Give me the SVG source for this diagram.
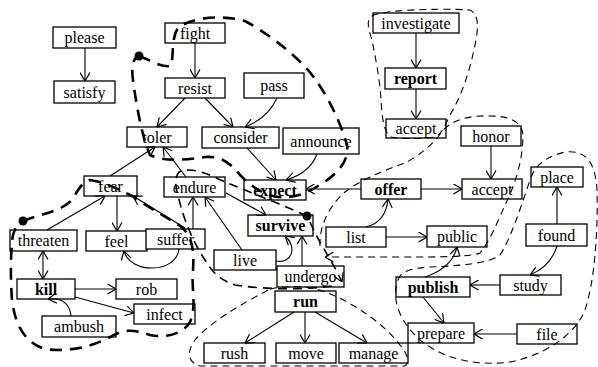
<svg xmlns="http://www.w3.org/2000/svg" width="598" height="367" viewBox="0 0 598 367">
<style>
.n rect{fill:#fff;stroke:#000;stroke-width:1.3}
.n text{font-family:"Liberation Serif","Times New Roman",serif;font-size:16px;text-anchor:middle;fill:#000}
.b text{font-weight:bold}
.e path{fill:none;stroke:#000;stroke-width:1.1;marker-end:url(#a)}
.thick{fill:none;stroke:#000;stroke-width:2.6;stroke-dasharray:12 8}
.med{fill:none;stroke:#000;stroke-width:1.6;stroke-dasharray:9 6}
.thin{fill:none;stroke:#000;stroke-width:1.1;stroke-dasharray:7 5}
</style>
<defs>
<marker id="a" viewBox="0 0 9 11" refX="9" refY="5.5" markerWidth="9" markerHeight="11" markerUnits="userSpaceOnUse" orient="auto-start-reverse">
<path d="M0.5,0.5 L9,5.5 L0.5,10.5" fill="none" stroke="#000" stroke-width="1.2"/>
</marker>
</defs>
<rect width="598" height="367" fill="#fff"/>
<g id="nodes">
<g id="please" class="n"><rect x="53" y="27" width="63" height="21"/><text x="84.5" y="43">please</text></g>
<g id="satisfy" class="n"><rect x="54" y="81" width="61" height="22"/><text x="84.5" y="97.5">satisfy</text></g>
<g id="fight" class="n"><rect x="165" y="23" width="60" height="20"/><text x="195" y="38.5">fight</text></g>
<g id="resist" class="n"><rect x="165" y="78" width="60" height="20"/><text x="195" y="93.5">resist</text></g>
<g id="pass" class="n"><rect x="244" y="73" width="60" height="25"/><text x="274" y="91">pass</text></g>
<g id="toler" class="n"><rect x="127" y="127" width="60" height="20"/><text x="157" y="142.5">toler</text></g>
<g id="consider" class="n"><rect x="202" y="127" width="77" height="21"/><text x="240.5" y="143">consider</text></g>
<g id="announce" class="n"><rect x="283" y="128" width="76" height="26"/><text x="321" y="146.5">announce</text></g>
<g id="fear" class="n"><rect x="84" y="176" width="53" height="20"/><text x="110.5" y="191.5">fear</text></g>
<g id="endure" class="n"><rect x="164" y="177" width="61" height="20"/><text x="194.5" y="192.5">endure</text></g>
<g id="expect" class="n b"><rect x="244" y="180" width="62" height="20"/><text x="275" y="195.5">expect</text></g>
<g id="offer" class="n b"><rect x="361" y="179" width="60" height="20"/><text x="391" y="194.5">offer</text></g>
<g id="accept2" class="n"><rect x="462" y="179" width="60" height="20"/><text x="492" y="194.5">accept</text></g>
<g id="honor" class="n"><rect x="461" y="126" width="60" height="20"/><text x="491" y="141.5">honor</text></g>
<g id="accept1" class="n"><rect x="386" y="119" width="60" height="19"/><text x="416" y="134">accept</text></g>
<g id="investigate" class="n"><rect x="373" y="13" width="86" height="20"/><text x="416" y="28.5">investigate</text></g>
<g id="report" class="n b"><rect x="385" y="68" width="61" height="21"/><text x="415.5" y="84">report</text></g>
<g id="place" class="n"><rect x="531" y="167" width="52" height="20"/><text x="557" y="182.5">place</text></g>
<g id="found" class="n"><rect x="526" y="224" width="61" height="22"/><text x="556.5" y="240.5">found</text></g>
<g id="study" class="n"><rect x="500" y="275" width="61" height="20"/><text x="530.5" y="290.5">study</text></g>
<g id="publish" class="n b"><rect x="396" y="277" width="74" height="20"/><text x="433" y="292.5">publish</text></g>
<g id="file" class="n"><rect x="517" y="324" width="60" height="20"/><text x="547" y="339.5">file</text></g>
<g id="prepare" class="n"><rect x="408" y="323" width="66" height="20"/><text x="441" y="338.5">prepare</text></g>
<g id="public" class="n"><rect x="427" y="226" width="60" height="21"/><text x="457" y="242">public</text></g>
<g id="list" class="n"><rect x="326" y="227" width="60" height="20"/><text x="356" y="242.5">list</text></g>
<g id="survive" class="n b"><rect x="248" y="215" width="65" height="21"/><text x="280.5" y="231">survive</text></g>
<g id="live" class="n"><rect x="214" y="250" width="62" height="20"/><text x="245" y="265.5">live</text></g>
<g id="undergo" class="n"><rect x="277" y="266" width="67" height="21"/><text x="310.5" y="282">undergo</text></g>
<g id="feel" class="n"><rect x="86" y="231" width="61" height="20"/><text x="116.5" y="246.5">feel</text></g>
<g id="suffer" class="n"><rect x="146" y="229" width="59" height="20"/><text x="175.5" y="244.5">suffer</text></g>
<g id="threaten" class="n"><rect x="10" y="230" width="67" height="21"/><text x="43.5" y="246">threaten</text></g>
<g id="kill" class="n b"><rect x="17" y="279" width="58" height="20"/><text x="46" y="294.5">kill</text></g>
<g id="rob" class="n"><rect x="116" y="279" width="61" height="20"/><text x="146.5" y="294.5">rob</text></g>
<g id="infect" class="n"><rect x="134" y="304" width="61" height="20"/><text x="164.5" y="319.5">infect</text></g>
<g id="ambush" class="n"><rect x="42" y="316" width="74" height="21"/><text x="79" y="332">ambush</text></g>
<g id="run" class="n b"><rect x="275" y="291" width="61" height="21"/><text x="305.5" y="307">run</text></g>
<g id="rush" class="n"><rect x="204" y="343" width="61" height="20"/><text x="234.5" y="358.5">rush</text></g>
<g id="move" class="n"><rect x="276" y="343" width="60" height="20"/><text x="306" y="358.5">move</text></g>
<g id="manage" class="n"><rect x="339" y="343" width="69" height="20"/><text x="373.5" y="358.5">manage</text></g>
</g>
<g id="connectors" class="e">
<path d="M85,48 L85,81"/>
<path d="M195,43 L195,78"/>
<path d="M185,98 L157,127"/>
<path d="M205,98 L233,127"/>
<path d="M277,98 Q268,118 245,127"/>
<path d="M247,148 L276,180"/>
<path d="M317,154 Q310,173 286,180"/>
<path d="M110,176 L155,147"/>
<path d="M186,177 L163,147"/>
<path d="M47,230 L105,196"/>
<path d="M117,196 L117,231"/>
<path d="M185,228 L133,196"/>
<path d="M193,229 L193,197"/>
<path d="M179,249 C176,274 130,274 124,251"/>
<path d="M43,251 L43,279" style="marker-start:url(#a)"/>
<path d="M75,289 L116,289"/>
<path d="M75,297 L134,313"/>
<path d="M71,316 Q69,297 48,299"/>
<path d="M226,193 L266,215"/>
<path d="M242,250 L205,197"/>
<path d="M276,261 C293,264 297,246 285,236"/>
<path d="M302,266 L302,236"/>
<path d="M361,189 L306,189"/>
<path d="M421,189 L462,189"/>
<path d="M491,146 L491,179"/>
<path d="M366,227 Q386,222 388,199"/>
<path d="M386,237 L427,237"/>
<path d="M416,33 L416,68"/>
<path d="M416,89 L416,119"/>
<path d="M557,224 L557,187"/>
<path d="M557,246 Q551,266 530,275"/>
<path d="M500,285 L470,285"/>
<path d="M517,334 L474,334"/>
<path d="M423,297 L444,323"/>
<path d="M425,277 Q452,268 457,247"/>
<path d="M294,312 L245,343"/>
<path d="M305,312 L305,343"/>
<path d="M315,312 L367,343"/>
</g>
<g id="regions">
<path class="thick" d="M139,56 C150,60 162,68 171,66 C174,55 171,38 178,28 C190,18 220,14 245,21 C265,32 290,50 308,70 C325,90 340,120 347,145 C350,162 335,176 318,186 C305,194 295,198 278,197 C262,195 250,185 240,175 C230,163 222,156 205,157 C185,160 165,162 150,155 C143,140 137,110 133,80 C131,66 133,58 139,56"/>
<circle cx="139" cy="56" r="4.5" fill="#000"/>
<path class="thick" d="M23,221 C40,214 60,212 72,200 C78,190 82,182 90,180 C105,182 120,190 132,196 C150,208 168,218 180,226 C194,236 194,255 193,270 C191,290 197,305 190,322 C182,335 165,338 150,335 C135,330 125,328 110,337 C90,348 65,352 45,349 C25,343 15,325 12,300 C10,275 11,245 13,235 C15,228 18,223 23,221"/>
<circle cx="23" cy="221" r="4.5" fill="#000"/>
<path class="med" d="M307,216 C280,204 250,192 225,182 C210,175 192,166 179,172 C172,180 178,195 181,207 C186,225 195,245 205,260 C212,272 220,280 235,285 C270,290 310,290 338,285"/>
<path class="med" d="M310,222 C320,245 333,262 342,282" style="marker-end:url(#a)"/>
<circle cx="307" cy="216" r="4.5" fill="#000"/>
<path class="thin" d="M270,289 C290,285 310,286 325,292 C355,303 385,325 400,345 C408,355 410,362 405,366 L200,366 C188,363 186,352 195,340 C210,322 240,305 270,289 Z"/>
<path class="thin" d="M372,16 C380,10 440,8 470,10 C480,15 478,30 475,45 C470,70 462,95 450,115 C445,125 443,133 435,137 C420,139 400,139 390,137 C383,130 382,115 381,100 C380,80 375,55 372,40 C368,28 366,20 372,16 Z"/>
<path class="thin" d="M320,246 C319,225 330,205 345,192 C360,180 385,170 405,163 C420,155 432,145 441,133 C450,120 470,115 490,116 C510,116 522,122 523,135 C523,160 515,185 505,205 C495,228 490,240 480,253 C470,257 440,257 400,257 L325,257" style="marker-end:url(#a)"/>
<path class="thin" d="M398,280 C400,272 410,268 430,267 C460,266 490,263 500,255 C510,240 520,210 530,180 C535,165 545,157 565,152 C585,150 595,160 597,190 C598,230 595,280 585,310 C575,335 545,355 510,362 C480,366 450,360 430,347 C410,335 398,315 396,300 C395,290 396,284 398,280 Z"/>
</g>
</svg>
